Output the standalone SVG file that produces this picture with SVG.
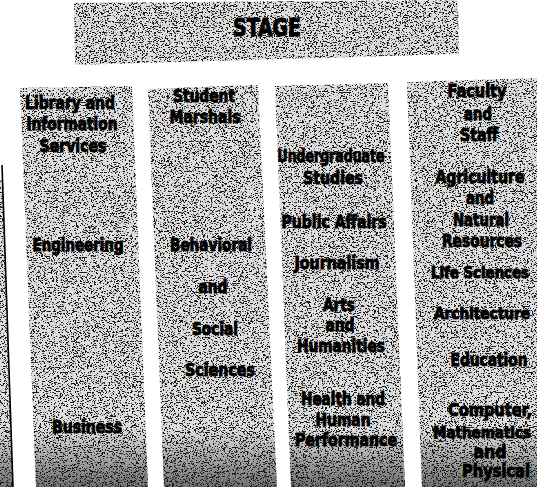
<svg xmlns="http://www.w3.org/2000/svg" width="537" height="487" viewBox="0 0 537 487">
  <defs>
    <filter id="grain" x="0" y="0" width="1" height="1" color-interpolation-filters="sRGB">
      <feTurbulence type="fractalNoise" baseFrequency="0.55 1.2" numOctaves="2" seed="5" result="noise"/>
      <feColorMatrix in="noise" type="matrix" values="0 0 0 0 0.1  0 0 0 0 0.1  0 0 0 0 0.1  -18 0 0 0 8.0" result="specks"/>
      <feComposite in="specks" in2="SourceGraphic" operator="in" result="clipped"/>
      <feMerge>
        <feMergeNode in="SourceGraphic"/>
        <feMergeNode in="clipped"/>
      </feMerge>
    </filter>
    <linearGradient id="shade" gradientUnits="userSpaceOnUse" x1="0" y1="428" x2="0" y2="487">
      <stop offset="0" stop-color="#dedede"/>
      <stop offset="1" stop-color="#707070"/>
    </linearGradient>
  </defs>
  <style>
    .tile { fill: url(#shade); filter: url(#grain); }
    .lbl { font-family: "DejaVu Sans Condensed", "DejaVu Sans", "Liberation Sans", sans-serif; font-stretch: condensed; font-weight: bold; font-size: 17px; fill: #000; stroke: #000; stroke-width: 0.9; text-anchor: middle; }
    .stage { font-size: 24px; stroke-width: 1; }
    .edge { font-size: 15.5px; stroke-width: 1; }
  </style>
  <rect width="537" height="487" fill="#ffffff"/>

  <g id="left-strip">
    <polygon class="tile" points="0,180 3,180 13,487 0,487"/>
    <line x1="2" y1="165" x2="13" y2="487" stroke="#000" stroke-width="1.6"/>
  </g>

  <g id="stage">
    <polygon class="tile" points="74,3 458,0 459,54 75,65"/>
    <text class="lbl stage" x="267" y="36" textLength="68" lengthAdjust="spacingAndGlyphs">STAGE</text>
  </g>

  <g id="column-1">
    <polygon class="tile" points="20,88 132,86 148,487 36,487"/>
    <text class="lbl" x="70" y="109" textLength="90" lengthAdjust="spacingAndGlyphs">Library and</text>
    <text class="lbl" x="72" y="130" textLength="91" lengthAdjust="spacingAndGlyphs">Information</text>
    <text class="lbl" x="73" y="152" textLength="67" lengthAdjust="spacingAndGlyphs">Services</text>
    <text class="lbl" x="78" y="251" textLength="91" lengthAdjust="spacingAndGlyphs">Engineering</text>
    <text class="lbl" x="87" y="433" textLength="70" lengthAdjust="spacingAndGlyphs">Business</text>
  </g>

  <g id="column-2">
    <polygon class="tile" points="148,89 258,85 277,487 164,487"/>
    <text class="lbl" x="204" y="102" textLength="62" lengthAdjust="spacingAndGlyphs">Student</text>
    <text class="lbl" x="205" y="123" textLength="71" lengthAdjust="spacingAndGlyphs">Marshals</text>
    <text class="lbl" x="211" y="251" textLength="82" lengthAdjust="spacingAndGlyphs">Behavioral</text>
    <text class="lbl" x="213" y="293" textLength="29" lengthAdjust="spacingAndGlyphs">and</text>
    <text class="lbl" x="215" y="335" textLength="46" lengthAdjust="spacingAndGlyphs">Social</text>
    <text class="lbl" x="220" y="376" textLength="70" lengthAdjust="spacingAndGlyphs">Sciences</text>
  </g>

  <g id="column-3">
    <polygon class="tile" points="275,86 388,83 405,487 291,487"/>
    <text class="lbl" x="331" y="162" textLength="107" lengthAdjust="spacingAndGlyphs">Undergraduate</text>
    <text class="lbl" x="333" y="184" textLength="60" lengthAdjust="spacingAndGlyphs">Studies</text>
    <text class="lbl" x="334" y="228" textLength="105" lengthAdjust="spacingAndGlyphs">Public Affairs</text>
    <text class="lbl" x="337" y="269" textLength="85" lengthAdjust="spacingAndGlyphs">Journalism</text>
    <text class="lbl" x="339" y="311" textLength="32" lengthAdjust="spacingAndGlyphs">Arts</text>
    <text class="lbl" x="340" y="331" textLength="29" lengthAdjust="spacingAndGlyphs">and</text>
    <text class="lbl" x="341" y="352" textLength="88" lengthAdjust="spacingAndGlyphs">Humanities</text>
    <text class="lbl" x="343" y="405" textLength="84" lengthAdjust="spacingAndGlyphs">Health and</text>
    <text class="lbl" x="343" y="426" textLength="55" lengthAdjust="spacingAndGlyphs">Human</text>
    <text class="lbl" x="346" y="446" textLength="102" lengthAdjust="spacingAndGlyphs">Performance</text>
  </g>

  <g id="column-4">
    <polygon class="tile" points="407,82 537,78 537,487 422,487"/>
    <text class="lbl" x="477" y="97" textLength="59" lengthAdjust="spacingAndGlyphs">Faculty</text>
    <text class="lbl" x="478" y="120" textLength="28" lengthAdjust="spacingAndGlyphs">and</text>
    <text class="lbl" x="479" y="141" textLength="38" lengthAdjust="spacingAndGlyphs">Staff</text>
    <text class="lbl" x="480" y="183" textLength="89" lengthAdjust="spacingAndGlyphs">Agriculture</text>
    <text class="lbl" x="480" y="204" textLength="28" lengthAdjust="spacingAndGlyphs">and</text>
    <text class="lbl" x="481" y="226" textLength="56" lengthAdjust="spacingAndGlyphs">Natural</text>
    <text class="lbl" x="482" y="247" textLength="80" lengthAdjust="spacingAndGlyphs">Resources</text>
    <text class="lbl edge" x="480" y="278" textLength="98" lengthAdjust="spacingAndGlyphs">Life Sciences</text>
    <text class="lbl edge" x="482" y="319" textLength="96" lengthAdjust="spacingAndGlyphs">Architecture</text>
    <text class="lbl" x="489" y="366" textLength="77" lengthAdjust="spacingAndGlyphs">Education</text>
    <text class="lbl" x="490" y="416" textLength="84" lengthAdjust="spacingAndGlyphs">Computer,</text>
    <text class="lbl edge" x="482" y="438" textLength="98" lengthAdjust="spacingAndGlyphs">Mathematics</text>
    <text class="lbl" x="490" y="458" textLength="33" lengthAdjust="spacingAndGlyphs">and</text>
    <text class="lbl" x="496" y="477" textLength="68" lengthAdjust="spacingAndGlyphs">Physical</text>
  </g>

  <g id="connectors"/>
</svg>
